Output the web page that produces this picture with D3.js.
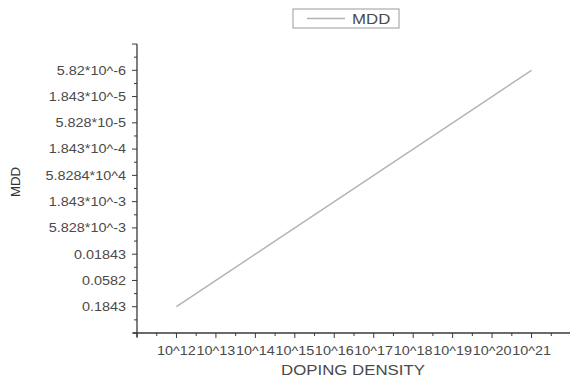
<!DOCTYPE html>
<html>
<head>
<meta charset="utf-8">
<script src="https://cdn.jsdelivr.net/npm/d3@7/dist/d3.min.js"></script>
<style>
  html, body { margin: 0; padding: 0; background: #fff; }
  svg { display: block; font-family: "Liberation Sans", Arial, sans-serif; }
</style>
</head>
<body>
<svg id="chart" width="570" height="381"></svg>
<script>
// Doping density values (cm^-3) and the corresponding MDD values
const density = [1e12, 1e13, 1e14, 1e15, 1e16, 1e17, 1e18, 1e19, 1e20, 1e21];
const mdd = [0.1843, 0.0582, 0.01843, 5.828e-3, 1.843e-3, 5.8284e-4, 1.843e-4, 5.828e-5, 1.843e-5, 5.82e-6];

// Axis tick labels as printed
const xTickValues = [1e12, 1e13, 1e14, 1e15, 1e16, 1e17, 1e18, 1e19, 1e20, 1e21];
const xTickLabels = ["10^12", "10^13", "10^14", "10^15", "10^16", "10^17", "10^18", "10^19", "10^20", "10^21"];
const yTickValues = [0.1843, 0.0582, 0.01843, 5.828e-3, 1.843e-3, 5.8284e-4, 1.843e-4, 5.828e-5, 1.843e-5, 5.82e-6];
const yTickLabels = ["0.1843", "0.0582", "0.01843", "5.828*10^-3", "1.843*10^-3", "5.8284*10^4",
                     "1.843*10^-4", "5.828*10-5", "1.843*10^-5", "5.82*10^-6"];

const seriesName = "MDD";
const xTitle = "DOPING DENSITY";
const yTitle = "MDD";

(function draw() {
  const svg = d3.select("#chart");
  const textColor = "#4a4a4a";
  const axisColor = "#3a3a3a";
  const lineColor = "#b4b4b4";
  const stretch = 1.2;   // labels are drawn slightly wide

  const plot = { left: 137, right: 571, top: 44, bottom: 333 };
  const step = Math.sqrt(10);

  const x = d3.scaleLog().domain([1e11, 1e22]).range([plot.left, plot.right]);
  const y = d3.scaleLog().domain([0.1843 * step, 5.82e-6 / step]).range([plot.bottom, plot.top]);

  function widen(sel, factor) {
    sel.each(function () {
      const w = this.getComputedTextLength();
      d3.select(this).attr("textLength", w * factor).attr("lengthAdjust", "spacingAndGlyphs");
    });
  }

  // Major / minor tick positions along each axis
  const xMajor = d3.range(11, 23).map(e => Math.pow(10, e));
  const xMinor = d3.range(11, 22).map(e => Math.pow(10, e + 0.5));
  const yMajor = d3.range(0, 12).map(i => (0.1843 * step) / Math.pow(step, i));
  const yMinor = d3.range(0, 11).map(i => (0.1843 * step) / Math.pow(step, i + 0.5));

  // X axis
  const xAxis = svg.append("g").attr("transform", `translate(0,${plot.bottom})`);
  xAxis.append("line").attr("x1", plot.left - 4).attr("x2", 570).attr("stroke", axisColor).attr("stroke-width", 1.3);
  xAxis.selectAll(".xmaj").data(xMajor).join("line")
    .attr("x1", d => x(d)).attr("x2", d => x(d)).attr("y1", 0).attr("y2", 5)
    .attr("stroke", axisColor).attr("stroke-width", 1);
  xAxis.selectAll(".xmin").data(xMinor).join("line")
    .attr("x1", d => x(d)).attr("x2", d => x(d)).attr("y1", 0).attr("y2", 3)
    .attr("stroke", axisColor).attr("stroke-width", 1);
  xAxis.selectAll(".xlab").data(xTickValues).join("text")
    .attr("x", d => x(d)).attr("y", 22)
    .attr("text-anchor", "middle").attr("font-size", 12).attr("fill", textColor)
    .text((d, i) => xTickLabels[i])
    .call(widen, stretch);

  // Y axis
  const yAxis = svg.append("g").attr("transform", `translate(${plot.left},0)`);
  yAxis.append("line").attr("y1", plot.top).attr("y2", plot.bottom + 4).attr("stroke", axisColor).attr("stroke-width", 1.3);
  yAxis.selectAll(".ymaj").data(yMajor).join("line")
    .attr("y1", d => y(d)).attr("y2", d => y(d)).attr("x1", 0).attr("x2", -5)
    .attr("stroke", axisColor).attr("stroke-width", 1);
  yAxis.selectAll(".ymin").data(yMinor).join("line")
    .attr("y1", d => y(d)).attr("y2", d => y(d)).attr("x1", 0).attr("x2", -3)
    .attr("stroke", axisColor).attr("stroke-width", 1);
  yAxis.selectAll(".ylab").data(yTickValues).join("text")
    .attr("x", -11).attr("y", d => y(d)).attr("dy", "0.36em")
    .attr("text-anchor", "end").attr("font-size", 12).attr("fill", textColor)
    .text((d, i) => yTickLabels[i])
    .call(widen, stretch);

  // Axis titles
  svg.append("text")
    .attr("x", 353).attr("y", 375).attr("text-anchor", "middle")
    .attr("font-size", 14).attr("fill", textColor)
    .text(xTitle).call(widen, stretch);
  svg.append("text")
    .attr("transform", "translate(20,182) rotate(-90)").attr("text-anchor", "middle")
    .attr("font-size", 12).attr("fill", "#333")
    .text(yTitle).call(widen, 1.1);

  // Data line
  const line = d3.line().x((d, i) => x(density[i])).y(d => y(d));
  svg.append("path").datum(mdd)
    .attr("d", line).attr("fill", "none")
    .attr("stroke", lineColor).attr("stroke-width", 1.5);

  // Legend
  const legend = svg.append("g");
  legend.append("rect").attr("x", 293).attr("y", 9).attr("width", 106).attr("height", 19)
    .attr("fill", "#fff").attr("stroke", "#9a9a9a").attr("stroke-width", 1);
  legend.append("line").attr("x1", 307).attr("x2", 345).attr("y1", 18.5).attr("y2", 18.5)
    .attr("stroke", lineColor).attr("stroke-width", 1.5);
  legend.append("text").attr("x", 352).attr("y", 24)
    .attr("font-size", 14).attr("fill", textColor)
    .text(seriesName).call(widen, stretch);
})();
</script>
</body>
</html>
